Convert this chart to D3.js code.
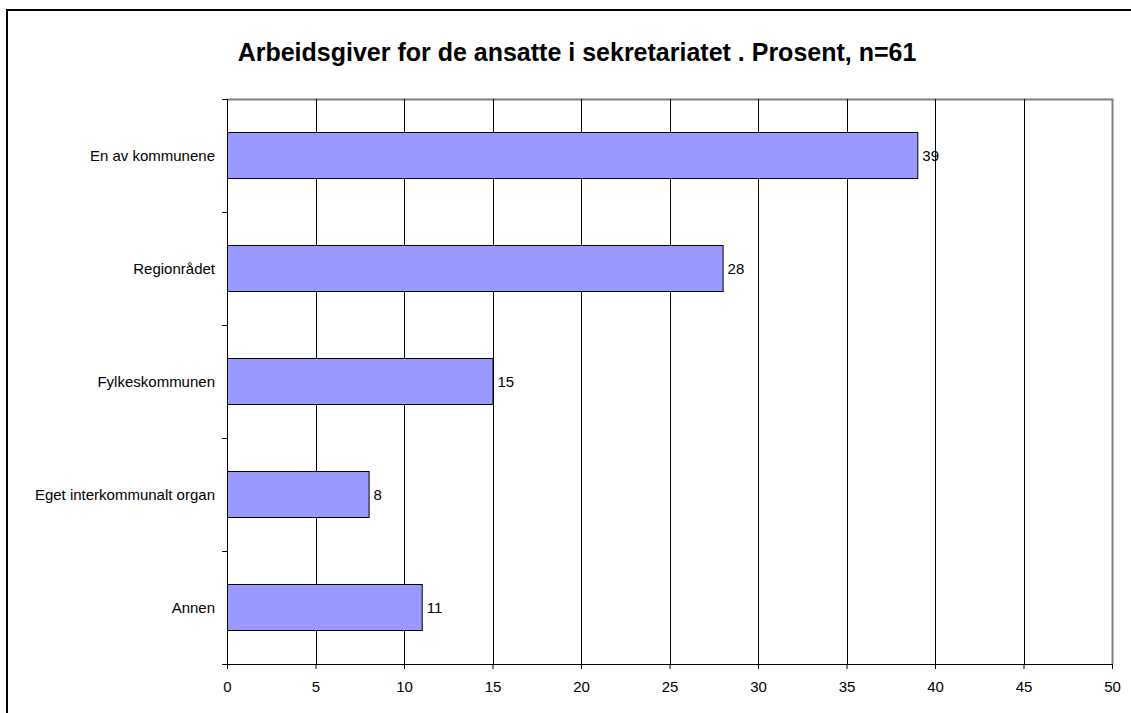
<!DOCTYPE html>
<html>
<head>
<meta charset="utf-8">
<script src="https://cdnjs.cloudflare.com/ajax/libs/d3/7.8.5/d3.min.js"></script>
<style>
  body { margin: 0; background: #fff; }
  text { font-family: "Liberation Sans", Arial, sans-serif; }
</style>
</head>
<body>
<div id="chart"></div>
<script>
// data
var categories = ["En av kommunene", "Regionrådet", "Fylkeskommunen", "Eget interkommunalt organ", "Annen"];
var values = [39, 28, 15, 8, 11];
var xTicks = [0, 5, 10, 15, 20, 25, 30, 35, 40, 45, 50];
var title = "Arbeidsgiver for de ansatte i sekretariatet . Prosent, n=61";

var W = 1131, H = 713;
var margin = { top: 99, right: 19, bottom: 49, left: 227 },
    width = W - margin.left - margin.right,
    height = H - margin.top - margin.bottom;

var svg = d3.select("#chart").append("svg")
    .attr("width", W)
    .attr("height", H);

// outer frame (cut at right/bottom like the original)
svg.append("rect")
    .attr("x", 7).attr("y", 10)
    .attr("width", W + 10).attr("height", H + 10)
    .attr("fill", "none").attr("stroke", "#000").attr("stroke-width", 2);

svg.append("text")
    .attr("x", 577).attr("y", 61)
    .attr("text-anchor", "middle")
    .style("font-size", "25px").style("font-weight", "bold")
    .text(title);

var g = svg.append("g")
    .attr("transform", "translate(" + margin.left + "," + margin.top + ")");

var x = d3.scaleLinear().domain([0, 50]).range([0, width]);
var y = d3.scaleBand().domain(categories).range([0, height]).paddingInner(0.59).paddingOuter(0.295);
var yb = d3.scaleBand().domain(categories).range([0, height]);

// plot border: grey top/right
g.append("path")
    .attr("d", "M0,0.5H" + (width + 0.5) + "V" + height)
    .attr("fill", "none").attr("stroke", "#808080").attr("stroke-width", 2);

// vertical gridlines
g.selectAll(".grid")
    .data(xTicks.filter(function (d) { return d > 0 && d < 50; }))
    .enter().append("line")
    .attr("x1", function (d) { return Math.round(x(d)) + 0.5; })
    .attr("x2", function (d) { return Math.round(x(d)) + 0.5; })
    .attr("y1", 0).attr("y2", height)
    .attr("stroke", "#000").attr("stroke-width", 1);

// bars
g.selectAll(".bar")
    .data(values)
    .enter().append("rect")
    .attr("x", x(0) + 0.5)
    .attr("y", function (d, i) { return Math.round(y(categories[i])) + 0.5; })
    .attr("width", function (d) { return x(d); })
    .attr("height", Math.round(y.bandwidth()))
    .attr("fill", "#9999FF").attr("stroke", "#000").attr("stroke-width", 1);

// value labels
g.selectAll(".val")
    .data(values)
    .enter().append("text")
    .attr("x", function (d) { return x(d) + 5; })
    .attr("y", function (d, i) { return y(categories[i]) + y.bandwidth() / 2; })
    .attr("dy", "0.35em")
    .style("font-size", "15px")
    .text(function (d) { return d; });

// x axis
var xAxis = g.append("g")
    .attr("transform", "translate(0," + height + ")")
    .call(d3.axisBottom(x).tickValues(xTicks).tickSize(5).tickSizeOuter(0).tickPadding(12));
xAxis.select(".domain").attr("stroke", "#000").attr("d", "M-5,0.5H" + (width + 0.5));
xAxis.selectAll(".tick line").attr("stroke", "#000");
xAxis.selectAll("text").style("font-size", "15px").attr("fill", "#000");

// y axis: ticks at category boundaries
var yAxis = g.append("g");
yAxis.append("line")
    .attr("x1", 0.5).attr("x2", 0.5).attr("y1", 0).attr("y2", height)
    .attr("stroke", "#000");
yAxis.selectAll(".ytick")
    .data(categories.concat(["end"]))
    .enter().append("line")
    .attr("x1", -5).attr("x2", 0)
    .attr("y1", function (d, i) { return Math.round(i * yb.step()) + 0.5; })
    .attr("y2", function (d, i) { return Math.round(i * yb.step()) + 0.5; })
    .attr("stroke", "#000");
yAxis.selectAll(".ylab")
    .data(categories)
    .enter().append("text")
    .attr("x", -12)
    .attr("y", function (d) { return yb(d) + yb.bandwidth() / 2; })
    .attr("dy", "0.35em")
    .attr("text-anchor", "end")
    .style("font-size", "15px")
    .text(function (d) { return d; });
</script>
</body>
</html>
